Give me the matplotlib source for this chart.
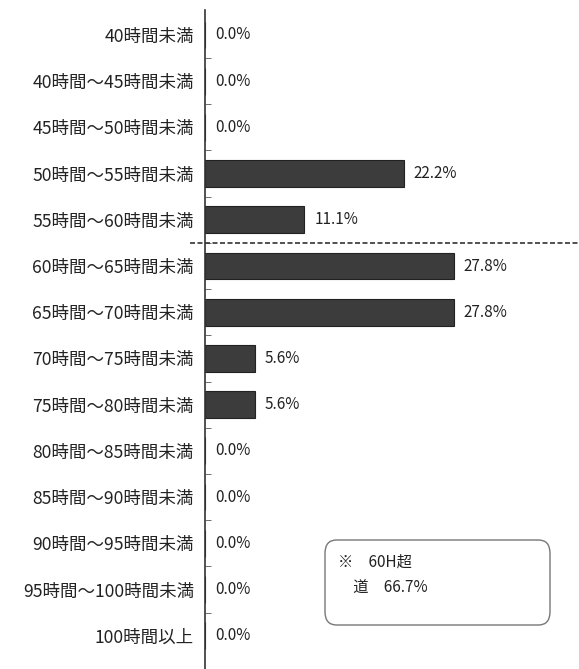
import matplotlib
matplotlib.use("Agg")
import matplotlib.pyplot as plt
from matplotlib.patches import FancyBboxPatch

plt.rcParams['font.family'] = ['Noto Sans CJK JP', 'DejaVu Sans']

categories = ["40時間未満", "40時間～45時間未満", "45時間～50時間未満", "50時間～55時間未満",
              "55時間～60時間未満", "60時間～65時間未満", "65時間～70時間未満", "70時間～75時間未満",
              "75時間～80時間未満", "80時間～85時間未満", "85時間～90時間未満", "90時間～95時間未満",
              "95時間～100時間未満", "100時間以上"]
values = [0.0, 0.0, 0.0, 22.2, 11.1, 27.8, 27.8, 5.6, 5.6, 0.0, 0.0, 0.0, 0.0, 0.0]
note_lines = ["※　60H超", "　道　66.7%"]

fig = plt.figure(figsize=(5.79, 6.69), dpi=100)
ax = fig.add_axes([205/579, 0, (579-205)/579, (669-10)/669])

y = list(range(len(categories)))
ax.barh(y, values, height=0.58, color="#3c3c3c", edgecolor="#222222", linewidth=0.8)
for yi, v in zip(y, values):
    ax.text(v + 1.1, yi, f"{v:.1f}%", va="center", ha="left", fontsize=11, color="#222222")

ax.set_xlim(0, 41.8)
ax.set_ylim(13.72, -0.54)
ax.set_yticks(y)
ax.set_yticklabels(categories, fontsize=12.6, color="#222222")
ax.tick_params(axis="y", which="major", length=0, pad=8)
ax.set_yticks([i + 0.5 for i in range(len(categories) - 1)], minor=True)
ax.tick_params(axis="y", which="minor", direction="in", length=4, color="#555555")
ax.set_xticks([])
for s in ["top", "right", "bottom"]:
    ax.spines[s].set_visible(False)
ax.spines["left"].set_color("#333333")
ax.spines["left"].set_linewidth(1.2)

# dashed divider between 55-60 and 60-65
ax.plot([-0.04, 1.0], [4.5, 4.5], transform=ax.get_yaxis_transform(), ls=(0, (3, 1.5)),
        color="#333333", lw=1.2, clip_on=False)

# note box
box = FancyBboxPatch((325/579, 1 - 625/669), (550-325)/579, (625-540)/669,
                     boxstyle="round,pad=0,rounding_size=0.02", transform=fig.transFigure,
                     facecolor="white", edgecolor="#777777", linewidth=1.0)
fig.patches.append(box)
fig.text(338/579, 1 - 562/669, note_lines[0], fontsize=11, va="center", ha="left", color="#222222")
fig.text(338/579, 1 - 588/669, note_lines[1], fontsize=11, va="center", ha="left", color="#222222")

fig.savefig("out.png", dpi=100)
